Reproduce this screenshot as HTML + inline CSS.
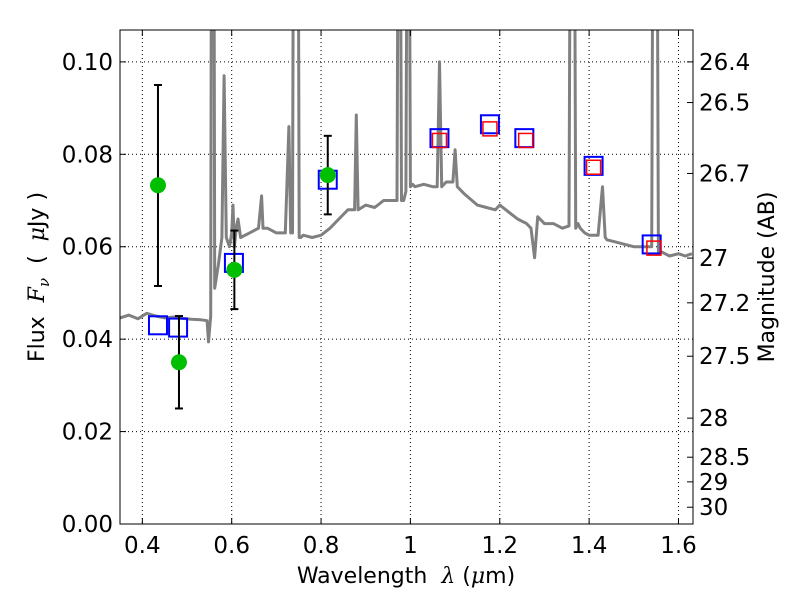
<!DOCTYPE html>
<html><head><meta charset="utf-8"><style>body{margin:0;background:#fff}svg{font-family:"DejaVu Sans","Liberation Sans",sans-serif}</style></head>
<body>
<svg id="c" width="800" height="600" xmlns="http://www.w3.org/2000/svg">
<defs><clipPath id="clip"><rect x="120" y="30" width="573" height="494"/></clipPath></defs>
<rect x="0" y="0" width="800" height="600" fill="#fff"/>
<g id="grid"></g>
<g id="spec" clip-path="url(#clip)"></g>
<g id="pts" clip-path="url(#clip)"></g>
<rect x="120" y="30" width="573" height="494" fill="none" stroke="#000" stroke-width="1"/>
<g id="axes"></g>
<text x="406" y="583" font-size="22" text-anchor="middle">Wavelength&#160;&#160;<tspan font-family="DejaVu Serif" font-style="italic">λ</tspan> (<tspan font-family="DejaVu Serif" font-style="italic">μ</tspan>m)</text>
<text transform="translate(44,277) rotate(-90)" font-size="22" text-anchor="middle">Flux&#160;&#160;<tspan font-family="DejaVu Serif" font-style="italic">F<tspan font-size="15" dy="5">ν</tspan></tspan><tspan dy="-5">&#160;&#160;(&#160;&#160;</tspan><tspan font-family="DejaVu Serif" font-style="italic">μ</tspan>Jy )</text>
<text transform="translate(774,277) rotate(-90)" font-size="22" text-anchor="middle">Magnitude (AB)</text>
</svg>
<script>
const xTicks=[0.4,0.6,0.8,1.0,1.2,1.4,1.6];
const xTickLabels=["0.4","0.6","0.8","1","1.2","1.4","1.6"];
const yTicks=[0,0.02,0.04,0.06,0.08,0.10];
const yTickLabels=["0.00","0.02","0.04","0.06","0.08","0.10"];
const magTicks=[26.4,26.5,26.7,27,27.2,27.5,28,28.5,29,30];
const magTickLabels=["26.4","26.5","26.7","27","27.2","27.5","28","28.5","29","30"];
const specWave=[0.35,0.37,0.39,0.41,0.43,0.45,0.47,0.49,0.51,0.53,0.545,0.548,0.553,0.556,0.559,0.562,0.57,0.578,0.583,0.588,0.595,0.6,0.603,0.606,0.61,0.614,0.62,0.64,0.66,0.667,0.67,0.68,0.7,0.72,0.728,0.732,0.736,0.74,0.747,0.751,0.755,0.76,0.78,0.8,0.82,0.84,0.86,0.875,0.879,0.883,0.9,0.92,0.94,0.96,0.97,0.975,0.98,0.985,0.99,0.995,1.0,1.005,1.01,1.03,1.05,1.06,1.065,1.07,1.08,1.095,1.1,1.105,1.12,1.15,1.17,1.19,1.2,1.22,1.24,1.26,1.27,1.278,1.285,1.3,1.32,1.34,1.355,1.36,1.365,1.37,1.375,1.38,1.39,1.4,1.42,1.43,1.436,1.44,1.46,1.48,1.5,1.53,1.54,1.545,1.55,1.555,1.56,1.58,1.6,1.615,1.63];
const specFlux=[0.0446,0.0452,0.0444,0.0456,0.0450,0.0446,0.0448,0.0445,0.0443,0.0442,0.0440,0.0394,0.045,0.2,0.2,0.0510,0.0560,0.0620,0.0970,0.0620,0.0600,0.0630,0.0690,0.0600,0.0640,0.0660,0.0620,0.0630,0.0640,0.0710,0.0640,0.0640,0.0630,0.0630,0.0860,0.0630,0.0630,0.2,0.2,0.0620,0.0620,0.0625,0.0620,0.0625,0.0640,0.0660,0.0680,0.0680,0.0885,0.0680,0.0690,0.0685,0.0700,0.0700,0.0700,0.2,0.0700,0.0700,0.0720,0.2,0.0730,0.0735,0.0730,0.0735,0.0730,0.0730,0.1000,0.0730,0.0740,0.0740,0.0810,0.0730,0.0715,0.0690,0.0685,0.0680,0.0690,0.0675,0.0660,0.0650,0.0640,0.0576,0.0665,0.0650,0.0650,0.0640,0.0645,0.2,0.2,0.0640,0.0650,0.0640,0.0630,0.0625,0.0625,0.0730,0.0620,0.0615,0.0610,0.0605,0.0600,0.0600,0.0600,0.2,0.2,0.0590,0.0590,0.0580,0.0585,0.0580,0.0585,0.0580,0.0585];
const photWave=[0.435,0.482,0.606,0.815];
const photFlux=[0.0733,0.035,0.055,0.0755];
const photLo=[0.0515,0.025,0.0465,0.067];
const photHi=[0.095,0.045,0.0635,0.084];
const modelWave=[0.435,0.48,0.605,0.815,1.065,1.178,1.255,1.41,1.54];
const modelFlux=[0.043,0.0425,0.0565,0.0745,0.0835,0.0865,0.0835,0.0775,0.0605];
const model2Wave=[1.065,1.178,1.258,1.41,1.545];
const model2Flux=[0.083,0.0855,0.083,0.0772,0.0597];

const NS="http://www.w3.org/2000/svg";
const X0=120,X1=693,Y0=524,Y1=30,XMIN=0.35,XMAX=1.6325,YMIN=0,YMAX=0.1069;
const sx=v=>X0+(v-XMIN)/(XMAX-XMIN)*(X1-X0);
const sy=v=>Y0-(v-YMIN)/(YMAX-YMIN)*(Y0-Y1);
function mk(tag,attrs,parent){const e=document.createElementNS(NS,tag);for(const k in attrs)e.setAttribute(k,attrs[k]);parent.appendChild(e);return e;}
const grid=document.getElementById('grid'),axes=document.getElementById('axes'),spec=document.getElementById('spec'),pts=document.getElementById('pts');
xTicks.forEach((t,i)=>{const x=sx(t);
 let g=mk('line',{x1:x,x2:x,y1:Y1,y2:Y0,stroke:'#000','stroke-dasharray':'1,3','stroke-width':1},grid);
 
 mk('line',{x1:x,x2:x,y1:Y0,y2:Y0-6,stroke:'#000'},axes);mk('line',{x1:x,x2:x,y1:Y1,y2:Y1+6,stroke:'#000'},axes);
 let l=mk('text',{x:x,y:Y0+29,'font-size':23,'text-anchor':'middle'},axes);l.textContent=xTickLabels[i];
 });
yTicks.forEach((t,i)=>{const y=sy(t);
 let g=mk('line',{x1:X0,x2:X1,y1:y,y2:y,stroke:'#000','stroke-dasharray':'1,3','stroke-width':1},grid);
 
 mk('line',{x1:X0,x2:X0+6,y1:y,y2:y,stroke:'#000'},axes);
 let l=mk('text',{x:X0-7,y:y+8,'font-size':23,'text-anchor':'end'},axes);l.textContent=yTickLabels[i];
 });
magTicks.forEach((m,i)=>{const f=Math.pow(10,(23.9-m)/2.5);const y=sy(f);
 mk('line',{x1:X1-6,x2:X1,y1:y,y2:y,stroke:'#000'},axes);
 let l=mk('text',{x:X1+6,y:y+8,'font-size':23},axes);l.textContent=magTickLabels[i];
 });
let d=specWave.map((w,i)=>(i?'L':'M')+sx(w).toFixed(1)+','+sy(specFlux[i]).toFixed(1)).join('');
let sp=mk('path',{d:d,fill:'none',stroke:'#808080','stroke-width':3,'stroke-linejoin':'round'},spec);

modelWave.forEach((w,i)=>{let r=mk('rect',{x:sx(w)-9,y:sy(modelFlux[i])-9,width:18,height:18,fill:'none',stroke:'#0000ff','stroke-width':2},pts);
 });
model2Wave.forEach((w,i)=>{let r=mk('rect',{x:sx(w)-7,y:sy(model2Flux[i])-7,width:14,height:14,fill:'none',stroke:'#ff0000','stroke-width':1.5},pts);
 });
photWave.forEach((w,i)=>{const x=sx(w);
 let e=mk('line',{x1:x,x2:x,y1:sy(photLo[i]),y2:sy(photHi[i]),stroke:'#000','stroke-width':2},pts);
 
 mk('line',{x1:x-4,x2:x+4,y1:sy(photLo[i]),y2:sy(photLo[i]),stroke:'#000','stroke-width':2},pts);
 mk('line',{x1:x-4,x2:x+4,y1:sy(photHi[i]),y2:sy(photHi[i]),stroke:'#000','stroke-width':2},pts);
 let c=mk('circle',{cx:x,cy:sy(photFlux[i]),r:8,fill:'#00bf00'},pts);
 });
</script>
</body></html>
